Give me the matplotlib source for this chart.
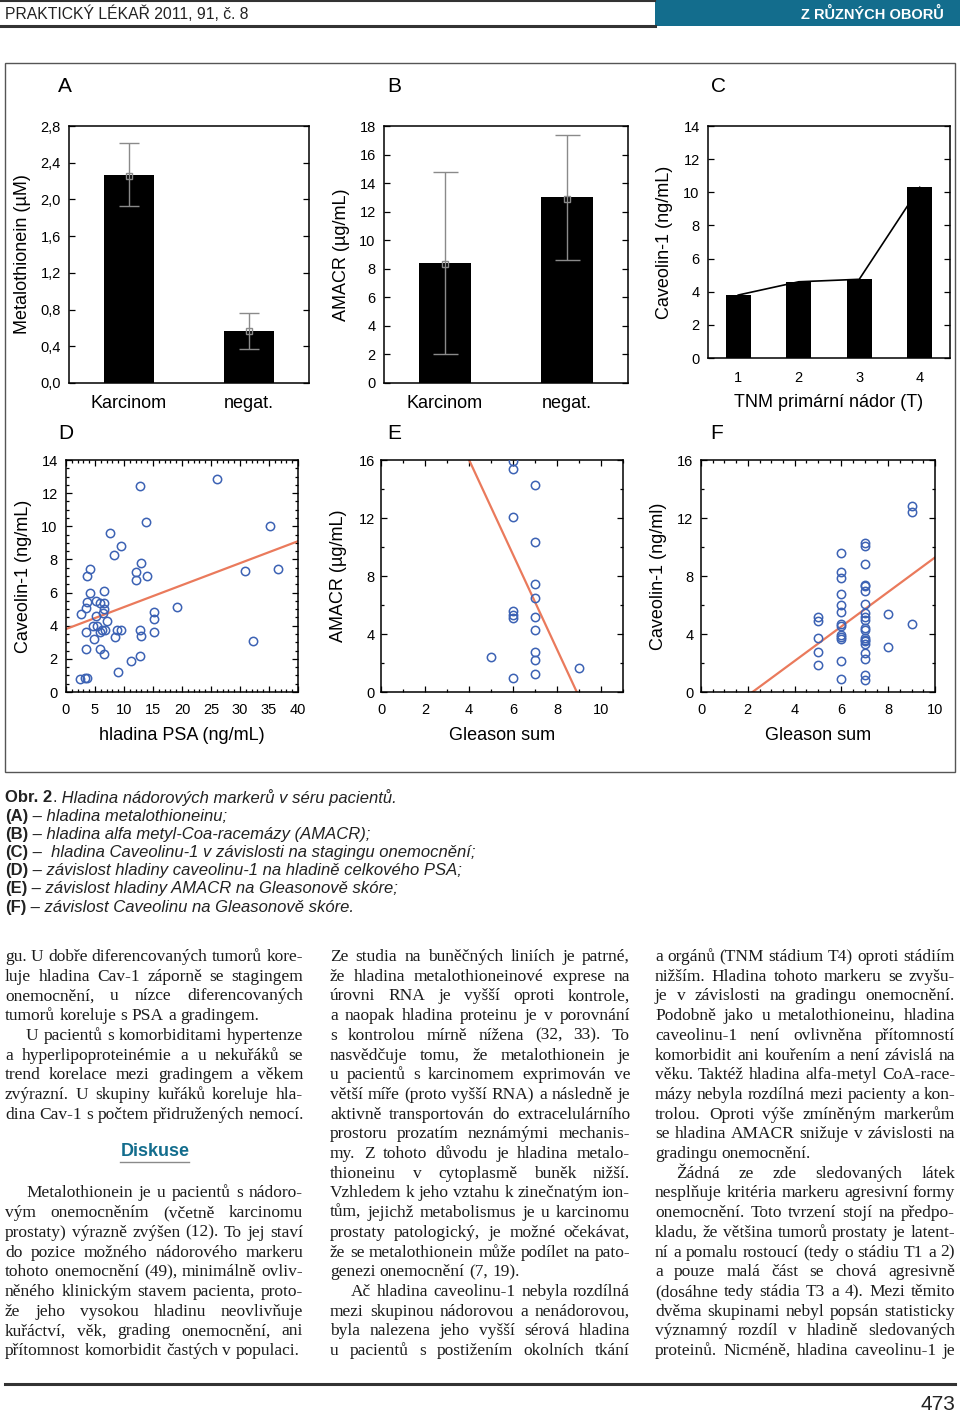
import numpy as np
import matplotlib
matplotlib.use("Agg")
import matplotlib.pyplot as plt
from matplotlib.patches import Rectangle
from matplotlib.lines import Line2D
from matplotlib.ticker import MultipleLocator, FuncFormatter

# ===============================================
# DATA
# ===============================================
groups = ["Karcinom", "negat."]

mt_mean = [2.27, 0.57]
mt_point = [2.25, 0.57]
mt_low = [1.93, 0.37]
mt_high = [2.61, 0.76]

amacr_mean = [8.4, 13.0]
amacr_point = [8.3, 12.9]
amacr_low = [2.0, 8.6]
amacr_high = [14.8, 17.4]

tnm_stage = [1, 2, 3, 4]
tnm_cav = [3.8, 4.6, 4.75, 10.3]

psa = [2.4, 3.3, 3.7, 2.5, 3.5, 3.7, 3.7, 4.1, 4.1, 3.5, 3.5, 4.7, 4.9, 5.2,
       5.2, 5.3, 5.8, 5.9, 5.9, 6.2, 6.6, 6.6, 6.5, 6.4, 6.6, 6.8, 7.1, 7.5,
       8.2, 8.4, 8.9, 8.8, 9.5, 9.5, 11.2, 12.0, 12.0, 12.8, 12.9, 12.8, 13.0,
       12.8, 13.8, 14.0, 15.1, 15.1, 15.1, 19.2, 26.1, 30.9, 32.3, 35.1, 36.6]
psa_cav = [0.78, 0.84, 0.86, 4.72, 5.06, 5.46, 7.0, 7.41, 6.0, 3.62, 2.61, 3.96,
           3.21, 5.52, 4.6, 4.0, 2.61, 5.36, 3.62, 3.72, 6.07, 5.4, 5.02, 4.76,
           2.29, 3.72, 4.3, 9.58, 8.27, 3.29, 1.2, 3.72, 8.82, 3.76, 1.89, 7.23,
           6.77, 12.45, 7.81, 3.76, 3.35, 2.15, 10.24, 7.0, 4.82, 4.42, 3.62,
           5.12, 12.83, 7.33, 3.09, 10.04, 7.41]
psa_fit = [3.8, 0.1325]        # intercept, slope

gleason_e = [6, 6, 7, 6, 7, 7, 7, 6, 6, 6, 7, 7, 7, 7, 7, 5, 6, 9]
amacr_e = [15.95, 15.36, 14.3, 12.1, 10.35, 7.46, 6.47, 5.6, 5.28, 5.1, 5.19,
           4.29, 2.78, 2.2, 1.22, 2.41, 0.99, 1.68]
amacr_fit = [29.1, -3.27]

gleason_f = [5, 5, 5, 5, 5,
             6, 6, 6, 6, 6, 6, 6, 6, 6, 6, 6, 6, 6,
             7, 7, 7, 7, 7, 7, 7, 7, 7, 7, 7, 7, 7, 7, 7, 7, 7, 7, 7, 7,
             8, 8, 9, 9, 9]
cav_f = [5.17, 4.87, 3.74, 2.73, 1.88,
         9.57, 8.29, 7.85, 6.75, 6.01, 5.51, 4.68, 4.57, 3.95, 3.79, 3.63, 2.16, 0.87,
         10.26, 10.08, 8.82, 7.39, 7.28, 7.0, 6.08, 5.42, 5.19, 4.98, 4.38, 4.29,
         3.72, 3.6, 3.49, 3.33, 2.66, 2.3, 1.19, 0.85,
         5.39, 3.08, 12.86, 12.44, 4.68]
cav_fit = [-2.62, 1.19]

# ===============================================
# PAGE TEXT
# ===============================================
header_left = "PRAKTICKÝ LÉKAŘ 2011, 91, č. 8"
header_right = "Z RŮZNÝCH OBORŮ"
page_no = "473"

caption = [
    [("Obr. 2", "bold", "normal"), (".", "normal", "normal"),
     (" Hladina nádorových markerů v séru pacientů.", "normal", "italic")],
    [("(A)", "bold", "normal"), (" – hladina metalothioneinu;", "normal", "italic")],
    [("(B)", "bold", "normal"), (" – hladina alfa metyl-Coa-racemázy (AMACR);", "normal", "italic")],
    [("(C)", "bold", "normal"), (" –  hladina Caveolinu-1 v závislosti na stagingu onemocnění;", "normal", "italic")],
    [("(D)", "bold", "normal"), (" – závislost hladiny caveolinu-1 na hladině celkového PSA;", "normal", "italic")],
    [("(E)", "bold", "normal"), (" – závislost hladiny AMACR na Gleasonově skóre;", "normal", "italic")],
    [("(F)", "bold", "normal"), (" – závislost Caveolinu na Gleasonově skóre.", "normal", "italic")],
]

# (indent first line, last line is paragraph end, lines)
col1_top = [
    (False, True, ["gu. U dobře diferencovaných tumorů kore-",
                   "luje hladina Cav-1 záporně se stagingem",
                   "onemocnění, u nízce diferencovaných",
                   "tumorů koreluje s PSA a gradingem."]),
    (True, True, ["U pacientů s komorbiditami hypertenze",
                  "a hyperlipoproteinémie a u nekuřáků se",
                  "trend korelace mezi gradingem a věkem",
                  "zvýrazní. U skupiny kuřáků koreluje hla-",
                  "dina Cav-1 s počtem přidružených nemocí."]),
]
col1_bottom = [
    (True, True, ["Metalothionein je u pacientů s nádoro-",
                  "vým onemocněním (včetně karcinomu",
                  "prostaty) výrazně zvýšen (12). To jej staví",
                  "do pozice možného nádorového markeru",
                  "tohoto onemocnění (49), minimálně ovliv-",
                  "něného klinickým stavem pacienta, proto-",
                  "že jeho vysokou hladinu neovlivňuje",
                  "kuřáctví, věk, grading onemocnění, ani",
                  "přítomnost komorbidit častých v populaci."]),
]
col2 = [
    (False, True, ["Ze studia na buněčných liniích je patrné,",
                   "že hladina metalothioneinové exprese na",
                   "úrovni RNA je vyšší oproti kontrole,",
                   "a naopak hladina proteinu je v porovnání",
                   "s kontrolou mírně nížena (32, 33). To",
                   "nasvědčuje tomu, že metalothionein je",
                   "u pacientů s karcinomem exprimován ve",
                   "větší míře (proto vyšší RNA) a následně je",
                   "aktivně transportován do extracelulárního",
                   "prostoru prozatím neznámými mechanis-",
                   "my. Z tohoto důvodu je hladina metalo-",
                   "thioneinu v cytoplasmě buněk nižší.",
                   "Vzhledem k jeho vztahu k zinečnatým ion-",
                   "tům, jejichž metabolismus je u karcinomu",
                   "prostaty patologický, je možné očekávat,",
                   "že se metalothionein může podílet na pato-",
                   "genezi onemocnění (7, 19)."]),
    (True, False, ["Ač hladina caveolinu-1 nebyla rozdílná",
                   "mezi skupinou nádorovou a nenádorovou,",
                   "byla nalezena jeho vyšší sérová hladina",
                   "u pacientů s postižením okolních tkání"]),
]
col3 = [
    (False, True, ["a orgánů (TNM stádium T4) oproti stádiím",
                   "nižším. Hladina tohoto markeru se zvyšu-",
                   "je v závislosti na gradingu onemocnění.",
                   "Podobně jako u metalothioneinu, hladina",
                   "caveolinu-1 není ovlivněna přítomností",
                   "komorbidit ani kouřením a není závislá na",
                   "věku. Taktéž hladina alfa-metyl CoA-race-",
                   "mázy nebyla rozdílná mezi pacienty a kon-",
                   "trolou. Oproti výše zmíněným markerům",
                   "se hladina AMACR snižuje v závislosti na",
                   "gradingu onemocnění."]),
    (True, False, ["Žádná ze zde sledovaných látek",
                   "nesplňuje kritéria markeru agresivní formy",
                   "onemocnění. Toto tvrzení stojí na předpo-",
                   "kladu, že většina tumorů prostaty je latent-",
                   "ní a pomalu rostoucí (tedy o stádiu T1 a 2)",
                   "a pouze malá část se chová agresivně",
                   "(dosáhne tedy stádia T3 a 4). Mezi těmito",
                   "dvěma skupinami nebyl popsán statisticky",
                   "významný rozdíl v hladině sledovaných",
                   "proteinů. Nicméně, hladina caveolinu-1 je"]),
]

# ===============================================
# PAGE SETUP
# ===============================================
W, H = 960, 1415
plt.rcParams["font.family"] = ["Liberation Sans", "DejaVu Sans"]
fig = plt.figure(figsize=(W / 100, H / 100), dpi=100)
rend = fig.canvas.get_renderer()

SANS = ["Liberation Sans", "DejaVu Sans"]
SERIF = ["Liberation Serif", "DejaVu Serif"]
BLUE = "#136d8d"
INK = "#1c1c1c"


def fx(x):
    return x / W


def fy(y):
    return 1 - y / H


def add_axes(l, t, r, b):
    return fig.add_axes([l / W, 1 - b / H, (r - l) / W, (b - t) / H])


def hline(x0, x1, y, lw, color):
    fig.add_artist(Line2D([fx(x0), fx(x1)], [fy(y), fy(y)], lw=lw, color=color,
                          transform=fig.transFigure))


def width_of(t):
    return t.get_window_extent(rend).width


# ---------------- header ----------------
hline(0, 655, 1, 1.5, "#333333")
hline(0, 655, 25.5, 2.2, "#333333")
fig.add_artist(Rectangle((fx(655), fy(26)), fx(960 - 655), 26 / H, transform=fig.transFigure,
                         facecolor=BLUE, edgecolor="none"))
fig.text(fx(5), fy(14), header_left, fontsize=11.3, family=SANS, color="#222222",
         va="center", ha="left")
fig.text(fx(944), fy(14), header_right, fontsize=10.5, family=SANS, fontweight="bold",
         color="white", va="center", ha="right")

# ---------------- figure frame ----------------
fig.add_artist(Rectangle((fx(5), fy(772)), fx(950), (772 - 63) / H, transform=fig.transFigure,
                         facecolor="none", edgecolor="#555555", lw=1.0))

# ===============================================
# CHART STYLE HELPERS
# ===============================================
TICK_FS = 10.5
LABEL_FS = 13


def style_box(ax, ypad, xpad):
    for s in ax.spines.values():
        s.set_linewidth(1.1)
        s.set_color("black")
    ax.tick_params(which="both", direction="in", top=True, right=True, colors="black",
                   labelsize=TICK_FS, width=0.9)
    ax.tick_params(which="major", length=4)
    ax.tick_params(which="minor", length=2)
    ax.tick_params(axis="y", pad=ypad)
    ax.tick_params(axis="x", pad=xpad)


def set_ylabel_px(ax, box, text, xright):
    l, t, r, b = box
    ax.set_ylabel(text, fontsize=LABEL_FS)
    ax.yaxis.set_label_coords((xright - l) / (r - l), 0.5)


def set_xlabel_px(ax, box, text, ytop):
    l, t, r, b = box
    ax.set_xlabel(text, fontsize=LABEL_FS)
    ax.xaxis.set_label_coords(0.5, (b - ytop) / (b - t))


comma = FuncFormatter(lambda v, p: f"{v:.1f}".replace(".", ","))

# ---------------- A ----------------
box_a = (69, 126, 309, 383)
ax = add_axes(*box_a)
x = np.arange(len(groups))
ax.bar(x, mt_mean, width=0.42, color="black", zorder=2)
ax.errorbar(x, mt_point, yerr=[np.subtract(mt_point, mt_low), np.subtract(mt_high, mt_point)],
            fmt="s", ms=5, mfc="none", mec="#8a8a8a", ecolor="#8a8a8a", elinewidth=1,
            capsize=7, capthick=1, zorder=3)
ax.set_xlim(-0.5, 1.5)
ax.set_ylim(0, 2.8)
ax.yaxis.set_major_locator(MultipleLocator(0.4))
ax.yaxis.set_major_formatter(comma)
ax.set_xticks(x, groups)
style_box(ax, 6, 9)
ax.tick_params(axis="x", length=0, labelsize=LABEL_FS)
set_ylabel_px(ax, box_a, "Metalothionein (µM)", 31)

# ---------------- B ----------------
box_b = (384, 126, 628, 383)
ax = add_axes(*box_b)
ax.bar(x, amacr_mean, width=0.42, color="black", zorder=2)
ax.errorbar(x, amacr_point,
            yerr=[np.subtract(amacr_point, amacr_low), np.subtract(amacr_high, amacr_point)],
            fmt="s", ms=5, mfc="none", mec="#8a8a8a", ecolor="#8a8a8a", elinewidth=1,
            capsize=9, capthick=1, zorder=3)
ax.set_xlim(-0.5, 1.5)
ax.set_ylim(0, 18)
ax.yaxis.set_major_locator(MultipleLocator(2))
ax.set_xticks(x, groups)
style_box(ax, 6, 9)
ax.tick_params(axis="x", length=0, labelsize=LABEL_FS)
set_ylabel_px(ax, box_b, "AMACR (µg/mL)", 350)

# ---------------- C ----------------
box_c = (708, 126, 950, 358)
ax = add_axes(*box_c)
ax.plot(tnm_stage, tnm_cav, color="black", lw=1.2, zorder=1)
ax.bar(tnm_stage, tnm_cav, width=0.42, color="black", zorder=2)
ax.set_xlim(0.5, 4.5)
ax.set_ylim(0, 14)
ax.yaxis.set_major_locator(MultipleLocator(2))
ax.set_xticks(tnm_stage)
style_box(ax, 6, 9)
ax.tick_params(axis="x", length=0)
set_ylabel_px(ax, box_c, "Caveolin-1 (ng/mL)", 673)
set_xlabel_px(ax, box_c, "TNM primární nádor (T)", 394)

# ---------------- D / E / F ----------------
PT = dict(marker="o", ls="none", ms=6, mfc="none", mec="#3c62b4", mew=1.1, zorder=3)
FIT = dict(color="#ea7a5c", lw=1.6, zorder=2)

box_d = (66, 460, 298, 692)
ax = add_axes(*box_d)
ax.plot(psa, psa_cav, **PT)
xl = np.array([0, 40])
ax.plot(xl, psa_fit[0] + psa_fit[1] * xl, **FIT)
ax.set_xlim(0, 40)
ax.set_ylim(0, 14)
ax.xaxis.set_major_locator(MultipleLocator(5))
ax.xaxis.set_minor_locator(MultipleLocator(1))
ax.yaxis.set_major_locator(MultipleLocator(2))
ax.yaxis.set_minor_locator(MultipleLocator(0.5))
style_box(ax, 6, 8)
set_ylabel_px(ax, box_d, "Caveolin-1 (ng/mL)", 32)
set_xlabel_px(ax, box_d, "hladina PSA (ng/mL)", 727)

box_e = (381, 460, 623, 692)
ax = add_axes(*box_e)
ax.plot(gleason_e, amacr_e, **PT)
xl = np.array([0, 11])
ax.plot(xl, amacr_fit[0] + amacr_fit[1] * xl, **FIT)
ax.set_xlim(0, 11)
ax.set_ylim(0, 16)
ax.xaxis.set_major_locator(MultipleLocator(2))
ax.xaxis.set_minor_locator(MultipleLocator(1))
ax.yaxis.set_major_locator(MultipleLocator(4))
ax.yaxis.set_minor_locator(MultipleLocator(2))
style_box(ax, 4.5, 8)
set_ylabel_px(ax, box_e, "AMACR (µg/mL)", 347)
set_xlabel_px(ax, box_e, "Gleason sum", 727)

box_f = (701, 460, 935, 692)
ax = add_axes(*box_f)
ax.plot(gleason_f, cav_f, **PT)
xl = np.array([0, 10])
ax.plot(xl, cav_fit[0] + cav_fit[1] * xl, **FIT)
ax.set_xlim(0, 10)
ax.set_ylim(0, 16)
ax.xaxis.set_major_locator(MultipleLocator(2))
ax.xaxis.set_minor_locator(MultipleLocator(0.5))
ax.yaxis.set_major_locator(MultipleLocator(4))
ax.yaxis.set_minor_locator(MultipleLocator(2))
style_box(ax, 5.5, 8)
set_ylabel_px(ax, box_f, "Caveolin-1 (ng/ml)", 667)
set_xlabel_px(ax, box_f, "Gleason sum", 727)

# panel letters
for letter, px, py in [("A", 65, 87), ("B", 394, 87), ("C", 718, 87),
                       ("D", 66, 433), ("E", 394, 433), ("F", 717, 433)]:
    fig.text(fx(px), fy(py), letter, fontsize=15, family=SANS, ha="center", va="center")

# ===============================================
# CAPTION
# ===============================================
cap_y = 798
for i, runs in enumerate(caption):
    cx = 5
    for txt, weight, style in runs:
        t = fig.text(fx(cx), fy(cap_y + i * 18.2), txt, fontsize=12, family=SANS,
                     fontweight=weight, fontstyle=style, color="#222222",
                     va="center", ha="left")
        cx += width_of(t)

# ===============================================
# BODY TEXT (justified columns)
# ===============================================
probe = fig.text(0, 0, "dina Cav-1 s počtem přidružených nemocí.", fontsize=12, family=SERIF)
BODY_FS = 12 * 298 / width_of(probe)
probe.remove()
LINE_H = 19.7
INDENT = 21


def put_line(line, x0, x1, y, justify):
    words = line.split(" ")
    objs = [fig.text(0, fy(y), w, fontsize=BODY_FS, family=SERIF, color=INK,
                     va="baseline", ha="left") for w in words]
    widths = [width_of(t) for t in objs]
    if justify and len(words) > 1:
        gap = (x1 - x0 - sum(widths)) / (len(words) - 1)
    else:
        gap = BODY_FS * 100 / 72 * 0.25
    cx = x0
    for t, w in zip(objs, widths):
        t.set_x(fx(cx))
        cx += w + gap


def put_column(pars, x0, x1, y0):
    y = y0
    for indent, ends, lines in pars:
        for k, line in enumerate(lines):
            start = x0 + (INDENT if (indent and k == 0) else 0)
            last = ends and k == len(lines) - 1
            put_line(line, start, x1, y, not last)
            y += LINE_H
    return y


base0 = 961
put_column(col1_top, 5, 303, base0)
put_column(col1_bottom, 5, 303, base0 + 12 * LINE_H)
put_column(col2, 330, 630, base0)
put_column(col3, 655, 955, base0)

# section heading
fig.text(fx(155), fy(1152), "Diskuse", fontsize=13, family=SANS, fontweight="bold",
         color=BLUE, ha="center", va="center")
hline(120, 189, 1161.5, 1.0, "#8a8a8a")

# ---------------- footer ----------------
hline(5, 955, 1384, 2.2, "#333333")
fig.text(fx(955), fy(1404), page_no, fontsize=15, family=SANS, color="#222222",
         ha="right", va="center")

fig.savefig("out.png", dpi=100)
